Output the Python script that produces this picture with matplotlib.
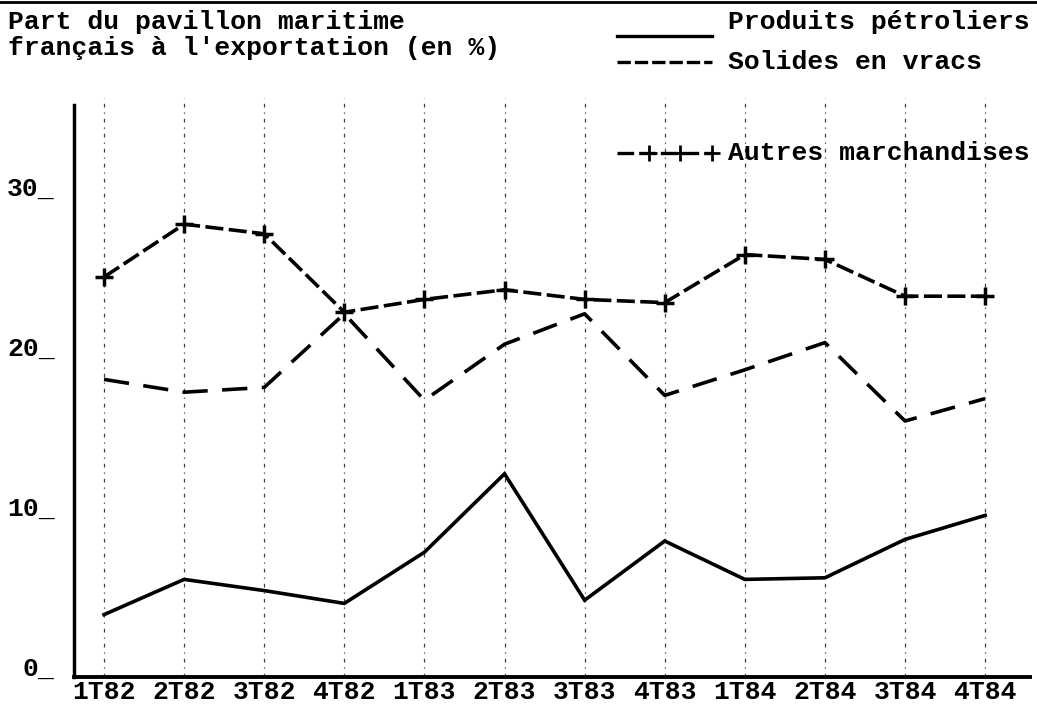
import matplotlib
matplotlib.use("Agg")
import matplotlib.pyplot as plt
from matplotlib.lines import Line2D
from matplotlib.transforms import ScaledTranslation

# data (share in %)
quarters = ["1T82", "2T82", "3T82", "4T82", "1T83", "2T83",
            "3T83", "4T83", "1T84", "2T84", "3T84", "4T84"]
produits = [3.9, 6.1, 5.4, 4.6, 7.8, 12.7, 4.8, 8.5, 6.1, 6.2, 8.6, 10.1]
solides = [18.6, 17.8, 18.1, 22.7, 17.3, 20.8, 22.7, 17.6, 19.2, 20.9, 16.0, 17.4]
autres = [25.0, 28.3, 27.7, 22.8, 23.6, 24.2, 23.6, 23.4, 26.4, 26.1, 23.8, 23.8]
yticks = [0, 10, 20, 30]
legend_labels = ["Produits pétroliers", "Solides en vracs", "Autres marchandises"]

W, H = 1037, 706
FONT = "Liberation Mono"
FS = 19

fig = plt.figure(figsize=(W / 100, H / 100), dpi=100)
ax = fig.add_axes([74 / W, 29 / H, 956 / W, 572 / H])

x = list(range(len(quarters)))

# dotted vertical guides
ax.vlines(x, 0, 36.2, colors="0.25", linewidth=0.9,
          linestyles=[(0, (3, 4, 1, 4))], clip_on=False, zorder=1)

ax.plot(x, produits, color="black", lw=2.6, solid_joinstyle="miter", zorder=3)
ax.plot(x, solides, color="black", lw=2.6, linestyle=(0, (7, 4)), zorder=3)
ax.plot(x, autres, color="black", lw=2.6, linestyle=(0, (5, 1.5)),
        marker="+", markersize=13, markeredgewidth=2.5, zorder=3)

ax.set_xlim(-0.375, 11.56)
ax.set_ylim(0, 35.75)

for s in ["top", "right"]:
    ax.spines[s].set_visible(False)
ax.spines["left"].set_linewidth(2.5)
ax.spines["bottom"].set_linewidth(2.8)

ax.set_xticks(x)
ax.set_xticklabels(quarters, fontfamily=FONT, fontsize=FS, fontweight="bold")
ax.tick_params(axis="x", length=0, pad=2)

ax.set_yticks(yticks)
ax.set_yticklabels([f"{v}_" for v in yticks], fontfamily=FONT, fontsize=FS,
                   fontweight="bold")
ax.tick_params(axis="y", length=0, pad=14)
shift = ScaledTranslation(0, 1 / 72, fig.dpi_scale_trans)
for lab in ax.get_yticklabels():
    lab.set_va("baseline")
    lab.set_transform(lab.get_transform() + shift)

# title (axis caption) in the upper left
txt = dict(fontfamily=FONT, fontsize=FS, fontweight="bold", color="black")
fig.text(8 / W, 1 - 22 / H, "Part du pavillon maritime", va="center", **txt)
fig.text(8 / W, 1 - 48 / H, "français à l'exportation (en %)", va="center", **txt)

# hand-placed legend, like the original typed key
def px(xp, yp):
    return xp / W, 1 - yp / H

leg_rows = [(legend_labels[0], 22, 36, dict(linestyle="-")),
            (legend_labels[1], 62, 62, dict(linestyle=(0, (4, 1.2)))),
            (legend_labels[2], 153, 153, dict(linestyle=(0, (5, 1.5)), marker="+",
                                              markersize=11, markeredgewidth=2,
                                              markevery=[1, 2, 3]))]
for label, ty, ly, style in leg_rows:
    x0, y0 = px(617, ly)
    x1, _ = px(712, ly)
    xs = [x0, x0 + (x1 - x0) / 3, x0 + 2 * (x1 - x0) / 3, x1]
    fig.add_artist(Line2D(xs, [y0] * 4, transform=fig.transFigure,
                          color="black", lw=2.4, **style))
    fig.text(*px(728, ty), label, va="center", **txt)

# scan border along the top
fig.add_artist(Line2D([0, 1], [1 - 2 / H] * 2, transform=fig.transFigure,
                      color="black", lw=2))

fig.savefig("out.png", dpi=100)
